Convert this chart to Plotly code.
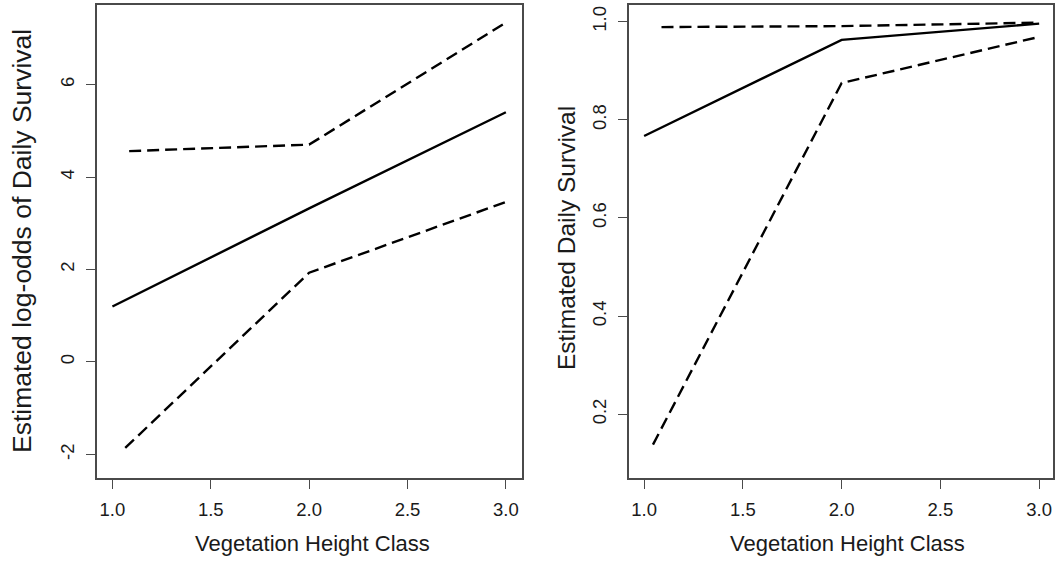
import plotly.graph_objects as go

# ---- data ----
x_class = [1.0, 2.0, 3.0]

# left panel: log-odds
lo_est = [1.20, 3.32, 5.40]
lo_upper_x = [1.085, 2.0, 3.0]
lo_upper = [4.56, 4.70, 7.34]
lo_lower_x = [1.065, 2.0, 3.0]
lo_lower = [-1.86, 1.93, 3.46]

# right panel: daily survival
ds_est = [0.767, 0.963, 0.996]
ds_upper_x = [1.088, 2.0, 3.0]
ds_upper = [0.989, 0.991, 0.998]
ds_lower_x = [1.045, 2.0, 3.0]
ds_lower = [0.138, 0.875, 0.969]

x_ticks = [1.0, 1.5, 2.0, 2.5, 3.0]
x_ticklabels = ["1.0", "1.5", "2.0", "2.5", "3.0"]
lo_ticks = [-2, 0, 2, 4, 6]
lo_ticklabels = ["-2", "0", "2", "4", "6"]
ds_ticks = [0.2, 0.4, 0.6, 0.8, 1.0]
ds_ticklabels = ["0.2", "0.4", "0.6", "0.8", "1.0"]

x_title = "Vegetation Height Class"
lo_title = "Estimated log-odds of Daily Survival"
ds_title = "Estimated Daily Survival"

W, H = 1063, 562
FONT = "Liberation Sans, Arial, Helvetica, sans-serif"
TXT = "#1a1a1a"
BOX = "#4a4a4a"
DASH = "12px,6px"

fig = go.Figure()
line_solid = dict(color="black", width=2.4)
line_dash = dict(color="black", width=2.4, dash=DASH)

fig.add_trace(go.Scatter(x=x_class, y=lo_est, mode="lines", line=line_solid, xaxis="x", yaxis="y"))
fig.add_trace(go.Scatter(x=lo_upper_x, y=lo_upper, mode="lines", line=line_dash, xaxis="x", yaxis="y"))
fig.add_trace(go.Scatter(x=lo_lower_x, y=lo_lower, mode="lines", line=line_dash, xaxis="x", yaxis="y"))

fig.add_trace(go.Scatter(x=x_class, y=ds_est, mode="lines", line=line_solid, xaxis="x2", yaxis="y2"))
fig.add_trace(go.Scatter(x=ds_upper_x, y=ds_upper, mode="lines", line=line_dash, xaxis="x2", yaxis="y2"))
fig.add_trace(go.Scatter(x=ds_lower_x, y=ds_lower, mode="lines", line=line_dash, xaxis="x2", yaxis="y2"))

ydom = [1 - 478.0 / H, 1 - 5.0 / H]
left_dom = [96.5 / W, 522.4 / W]
right_dom = [628.5 / W, 1053.0 / W]

common_x = dict(
    tickmode="array", tickvals=x_ticks, ticktext=x_ticklabels,
    showline=True, linecolor=BOX, linewidth=1.8, mirror=True,
    ticks="outside", ticklen=9, tickwidth=1.4, tickcolor=BOX,
    showgrid=False, zeroline=False,
    tickfont=dict(family=FONT, size=18.5, color=TXT),
    ticklabelstandoff=5,
)
common_y = dict(
    showline=True, linecolor=BOX, linewidth=1.8, mirror=True,
    ticks="outside", ticklen=9, tickwidth=1.4, tickcolor=BOX,
    showgrid=False, zeroline=False, tickangle=-90,
    tickfont=dict(family=FONT, size=18.5, color=TXT),
    ticklabelstandoff=4,
)

fig.update_layout(
    width=W, height=H,
    margin=dict(l=0, r=0, t=0, b=0),
    paper_bgcolor="white", plot_bgcolor="white",
    showlegend=False,
    xaxis=dict(domain=left_dom, range=[0.919, 3.084], anchor="y", **common_x),
    yaxis=dict(domain=ydom, range=[-2.51, 7.72], anchor="x",
               tickmode="array", tickvals=lo_ticks, ticktext=lo_ticklabels, **common_y),
    xaxis2=dict(domain=right_dom, range=[0.921, 3.07], anchor="y2", **common_x),
    yaxis2=dict(domain=ydom, range=[0.070, 1.034], anchor="x2",
                tickmode="array", tickvals=ds_ticks, ticktext=ds_ticklabels, **common_y),
)

title_font = dict(family=FONT, size=22, color=TXT)
annos = [
    dict(text=x_title, x=312 / W, y=1 - 543 / H, xref="paper", yref="paper",
         showarrow=False, font=title_font, xanchor="center", yanchor="middle"),
    dict(text=x_title, x=847 / W, y=1 - 543 / H, xref="paper", yref="paper",
         showarrow=False, font=title_font, xanchor="center", yanchor="middle"),
    dict(text=lo_title, x=22 / W, y=1 - 241 / H, xref="paper", yref="paper",
         showarrow=False, font=dict(family=FONT, size=26.5, color=TXT),
         textangle=-90, xanchor="center", yanchor="middle"),
    dict(text=ds_title, x=566 / W, y=1 - 238 / H, xref="paper", yref="paper",
         showarrow=False, font=dict(family=FONT, size=24.5, color=TXT),
         textangle=-90, xanchor="center", yanchor="middle"),
]
fig.update_layout(annotations=annos)

fig.write_html(
    "out.html",
    config={"displayModeBar": False},
    post_script="document.body.style.margin='0';document.body.style.overflow='hidden';",
)
